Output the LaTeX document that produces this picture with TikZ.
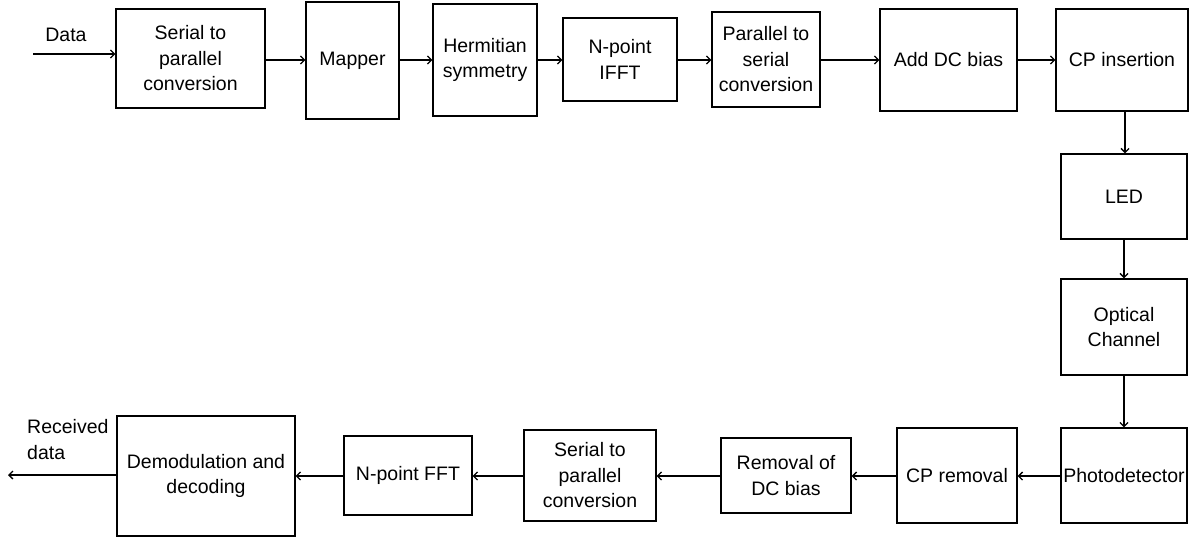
\documentclass[tikz,border=0pt]{standalone}
\usepackage{fontspec}
\setmainfont{Liberation Sans}
\usetikzlibrary{arrows.meta}
\begin{document}
\begin{tikzpicture}[x=1pt,y=-1pt,
  blk/.style={draw=black, line width=1.3pt, inner sep=0pt, align=center,
    font=\fontsize{19.5}{25.5}\selectfont},
  lbl/.style={inner sep=0pt, align=left, font=\fontsize{19.5}{26}\selectfont},
  arr/.style={line width=1.3pt, -{Straight Barb[length=4pt,width=8pt,line width=1.3pt]}}]
\useasboundingbox (0,0) rectangle (1189,540);
% top row
\node[blk, minimum width=149pt, minimum height=99pt]  (s2p)  at (190.5,58.5) {Serial to\\parallel\\conversion};
\node[blk, minimum width=93pt,  minimum height=117pt] (map)  at (352.5,60.5) {Mapper};
\node[blk, minimum width=104pt, minimum height=112pt] (herm) at (485,60)     {Hermitian\\symmetry};
\node[blk, minimum width=114pt, minimum height=83pt]  (ifft) at (620,59.5)   {N-point\\IFFT};
\node[blk, minimum width=108pt, minimum height=95pt]  (p2s)  at (766,59.5)   {Parallel to\\serial\\conversion};
\node[blk, minimum width=137pt, minimum height=102pt] (adc)  at (948.5,60)   {Add DC bias};
\node[blk, minimum width=132pt, minimum height=102pt] (cpi)  at (1122,60)    {CP insertion};
% right column
\node[blk, minimum width=126pt, minimum height=85pt]  (led)  at (1124,196.5) {LED};
\node[blk, minimum width=126pt, minimum height=96pt]  (opt)  at (1124,327)   {Optical\\Channel};
\node[blk, minimum width=126pt, minimum height=95pt]  (pd)   at (1124,475.5) {Photodetector};
% bottom row
\node[blk, minimum width=120pt, minimum height=95pt]  (cpr)  at (957,475.5)  {CP removal};
\node[blk, minimum width=130pt, minimum height=75pt]  (rdc)  at (786,475.5)  {Removal of\\DC bias};
\node[blk, minimum width=132pt, minimum height=91pt]  (s2pr) at (590,475.5)  {Serial to\\parallel\\conversion};
\node[blk, minimum width=128pt, minimum height=79pt]  (fft)  at (408,475.5)  {N-point FFT};
\node[blk, minimum width=178pt, minimum height=120pt] (dem)  at (206,476)    {Demodulation and\\decoding};
% labels
\node[lbl] (dlab) at (66,35) {Data};
\node[lbl, anchor=west] (rlab) at (27,440) {Received\\data};
% input/output
\coordinate (in) at (33,54);
\coordinate (out) at (8,475);
\draw[arr] (in) -- (in -| s2p.west);
\draw[arr] (s2p.east |- 0,60) -- (map.west |- 0,60);
\draw[arr] (map.east |- 0,60) -- (herm.west |- 0,60);
\draw[arr] (herm.east |- 0,60) -- (ifft.west |- 0,60);
\draw[arr] (ifft.east |- 0,60) -- (p2s.west |- 0,60);
\draw[arr] (p2s.east |- 0,60) -- (adc.west |- 0,60);
\draw[arr] (adc.east |- 0,60) -- (cpi.west |- 0,60);
\draw[arr] (cpi.south -| 1125,0) -- (led.north -| 1125,0);
\draw[arr] (led.south) -- (opt.north);
\draw[arr] (opt.south) -- (pd.north);
\draw[arr] (pd.west |- 0,476) -- (cpr.east |- 0,476);
\draw[arr] (cpr.west |- 0,476) -- (rdc.east |- 0,476);
\draw[arr] (rdc.west |- 0,476) -- (s2pr.east |- 0,476);
\draw[arr] (s2pr.west |- 0,476) -- (fft.east |- 0,476);
\draw[arr] (fft.west |- 0,476) -- (dem.east |- 0,476);
\draw[arr] (dem.west |- out) -- (out);
\end{tikzpicture}
\end{document}
